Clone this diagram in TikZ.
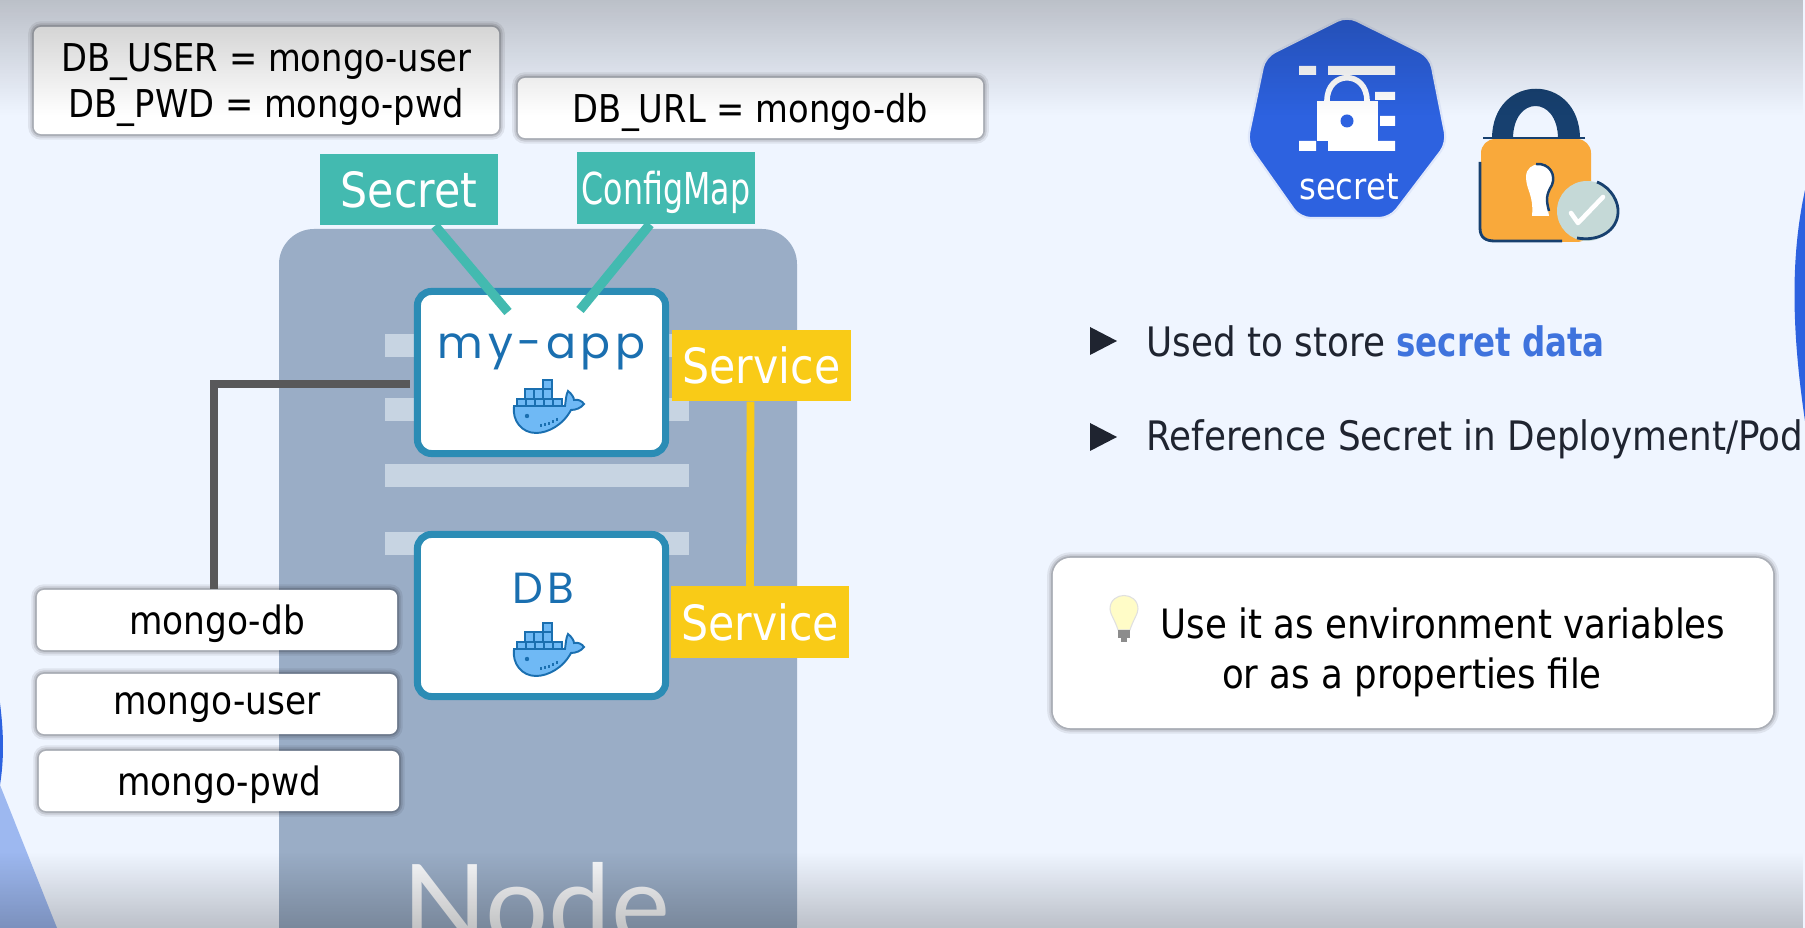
\documentclass[tikz,border=0pt]{standalone}
\usepackage{fontspec}
\setmainfont{DejaVu Sans}[FakeStretch=0.88]
\newfontfamily\latofont{Lato}
\newfontfamily\appfont{Poppins}[LetterSpace=10]
\newfontfamily\tightfont{DejaVu Sans}[FakeStretch=0.72]
\newfontfamily\markfont{DejaVu Sans}[FakeStretch=0.80]
\usetikzlibrary{fadings, calc, positioning}
\definecolor{pagebg}{HTML}{EFF5FF}
\definecolor{nodegray}{HTML}{9AADC6}
\definecolor{stripe}{HTML}{C7D4E2}
\definecolor{podblue}{HTML}{2B8CB5}
\definecolor{appblue}{HTML}{1A6FB0}
\definecolor{whalefill}{HTML}{6FB9F5}
\definecolor{tealbox}{HTML}{43BAB0}
\definecolor{yellowbox}{HTML}{F9CB17}
\definecolor{linegray}{HTML}{58585A}
\definecolor{kubeblue}{HTML}{2D62E0}
\definecolor{paleblue}{HTML}{9DB8F0}
\definecolor{lockorange}{HTML}{F9A93B}
\definecolor{lockblue}{HTML}{17406F}
\definecolor{checkgray}{HTML}{C5D9D7}
\definecolor{textdark}{HTML}{1F2430}
\definecolor{textblue}{HTML}{3F73DD}
\tikzfading[name=fadedown, top color=transparent!0, bottom color=transparent!100]
\tikzfading[name=fadeup, bottom color=transparent!0, top color=transparent!100]
\tikzset{
  % Cards with text
  softshadow/.style={
    preaction={draw=black, draw opacity=.07, line width=3.2pt},
    preaction={draw=black, draw opacity=.10, line width=2pt},
    preaction={draw=black, draw opacity=.14, line width=1pt}},
  card/.style={rectangle, rounded corners=2pt, softshadow, fill=white, text=black, inner sep=0pt, align=center,
    text depth=0pt, font=\fontsize{10.9}{13}\selectfont},
  lowcard/.style={card, minimum width=3.60cm, minimum height=0.60cm, font=\fontsize{11.1}{13}\selectfont},
  % Pods
  podbox/.style={rectangle, rounded corners=4pt, draw=podblue, line width=2pt, fill=white,
    minimum width=2.48cm, minimum height=1.62cm, inner sep=0pt},
  podtext/.style={text=appblue, inner sep=0pt},
  % Coloured tags
  tag/.style={rectangle, minimum width=1.78cm, minimum height=0.71cm, inner sep=0pt, text=white,
    fill=#1, font=\fontsize{13.8}{16}\selectfont},
  tag/.default={tealbox},
  % Connectors
  tealline/.style={tealbox, line width=2.7pt},
  yellowline/.style={yellowbox, line width=2.2pt},
  grayline/.style={linegray, line width=2.3pt},
  % Right side
  bullettext/.style={anchor=west, inner sep=0pt, text=textdark, font=\fontsize{11.55}{14}\selectfont},
  notetext/.style={inner sep=0pt, font=\fontsize{11.5}{14}\selectfont},
  pics/dockerwhale/.style={code={
    \draw[appblue, line width=.55pt, fill=whalefill] (-34,-1) -- (17,-1)
      .. controls (18,-8) and (18,-12) .. (20,-16) .. controls (24,-13) and (26,-9) .. (26,-7)
      .. controls (30,-8) and (34,-6) .. (36,-3) .. controls (33,1) and (28,3) .. (23,3)
      .. controls (15,18) and (0,26) .. (-12,26) .. controls (-26,26) and (-36,14) .. (-34,-1) -- cycle;
    \foreach \x in {-31,-22,-13,-4,5} {
      \draw[appblue, line width=.45pt, fill=whalefill] (\x,-8) rectangle (\x+9,-1);
    }
    \foreach \x in {-23,-14,-5} {
      \draw[appblue, line width=.45pt, fill=whalefill] (\x,-18) rectangle (\x+9,-8);
    }
    \draw[appblue, line width=.45pt, fill=whalefill] (-5,-27) rectangle (4,-18);
    \fill[appblue] (-21,9) circle[radius=2.2];
    \foreach \x/\y in {-7/19, -3/18, 1/17, 5/15, 9/13} {
      \draw[appblue, line width=.5pt] (\x,\y-2) -- (\x,\y+1);
    }
  }},
}
\begin{document}
\begin{tikzpicture}[x=0.01cm, y=-0.01cm]
    \useasboundingbox (0,0) rectangle (1805,928);
    \clip (0,0) rectangle (1805,928);
    % Background
    \fill[pagebg] (0,0) rectangle (1805,928);
    \fill[kubeblue] (1805,190) .. controls (1792,250) and (1790,320) .. (1805,421) -- cycle;
    \fill[kubeblue] (0,703) .. controls (4,735) and (4,760) .. (0,785) -- cycle;
    \fill[paleblue] (0,785) -- (57,928) -- (0,928) -- cycle;
    % K8s node with its stripes
    \fill[nodegray, rounded corners=10pt] (279,229) rectangle (797,960);
    \foreach \y in {334,398,464,532} {
      \fill[stripe] (385,\y) rectangle (689,\y+23);
    }
    \node[font=\latofont\fontsize{31.7}{36}\selectfont, text=white!92!nodegray, anchor=base, inner sep=0pt] (nodelabel) at (536,945) {Node};
    % Pods
    \node[podbox] (appbox) at (541.5,372.5) {};
    \node[podbox] (dbbox) at (541.5,615.5) {};
    \node[podtext, font=\appfont\fontsize{12.6}{16}\selectfont] (apptext) at (541.5,352) {my-app};
    \node[podtext, font=\appfont\fontsize{12.4}{14}\selectfont] (dbtext) at (543,588) {DB};
    \pic at (548,407) {dockerwhale};
    \pic at (548,650) {dockerwhale};
    % Config tags
    \node[tag] (secret) at (409,189.5) {Secret};
    \node[tag, text depth=0pt, font=\tightfont\fontsize{12.5}{14}\selectfont] (configmap) at (666,188) {ConfigMap};
    \coordinate (secretend) at (508,312);
    \coordinate (configend) at (580,310);
    \draw[tealline] ($(secret.south)+(26,0)$) -- (secretend);
    \draw[tealline] ($(configmap.south)+(-16,0)$) -- (configend);
    % Services
    \node[tag=yellowbox] (appservice) at (761.5,365.5) {Service};
    \node[tag=yellowbox] (dbservice) at (760,622) {Service};
    \draw[yellowline] ($(appservice.south)+(-11,0)$) -- ($(dbservice.north)+(-10,0)$);
    % Value cards
    \node[card, minimum width=4.65cm, minimum height=1.07cm] (secretcard) at (266.5,80.5) {DB\_USER = mongo-user\\DB\_PWD = mongo-pwd};
    \node[card, minimum width=4.65cm, minimum height=0.60cm] (configcard) at (750.5,108) {DB\_URL = mongo-db};
    \node[lowcard] (mongodb) at (217,620) {mongo-db};
    \node[lowcard] (mongouser) at (217,704) {mongo-user};
    \node[lowcard] (mongopwd) at (219,781) {mongo-pwd};
    \draw[grayline] ($(mongodb.north)+(-3,0)$) |- ($(appbox.west)+(-4,11.5)$);
    % Secret icon
    \draw[fill=kubeblue, draw=white!85!kubeblue, line width=.6pt, rounded corners=3pt]
      (1347,16) -- (1430,57) -- (1447,143) -- (1390,218) -- (1300,218) -- (1247,143) -- (1265,57) -- cycle;
    \fill[white] (1299,66) rectangle (1316,75) (1328,66) rectangle (1395,75);
    \fill[white] (1375,92) rectangle (1395,100) (1380,116) rectangle (1395,126);
    \fill[white] (1299,141) rectangle (1316,151) (1328,141) rectangle (1395,151);
    \draw[white, line width=1.6pt] (1327,101) .. controls (1327,70) and (1367,70) .. (1367,101);
    \fill[white] (1317,101) rectangle (1378,141);
    \fill[kubeblue] (1347,121) circle[radius=6.5];
    \node[text=white, inner sep=0pt, font=\fontsize{10.4}{13}\selectfont] (secretlabel) at (1349,187) {secret};
    % Padlock icon
    \fill[lockblue] (1492,139) .. controls (1492,72) and (1580,72) .. (1580,139) -- (1558,139)
      .. controls (1558,95) and (1513,95) .. (1513,139) -- cycle;
    \fill[lockorange, rounded corners=4pt] (1481,139) rectangle (1591,242);
    \draw[lockblue, line width=.4pt] (1483,138) -- (1585,138);
    \draw[lockblue, line width=.8pt] (1480,162) -- (1480,228) .. controls (1480,238) and (1486,241) .. (1495,241) -- (1562,241);
    \fill[white] (1526,177) .. controls (1526,160) and (1552,160) .. (1552,177)
      .. controls (1552,190) and (1545,195) .. (1549,216) -- (1532,216) .. controls (1534,195) and (1526,190) .. (1526,177) -- cycle;
    \draw[lockblue, line width=.7pt] (1536,164) .. controls (1550,163) and (1556,175) .. (1552,185) .. controls (1546,195) and (1546,200) .. (1549,211);
    \fill[checkgray] (1587,211) circle[radius=30];
    \draw[lockblue, line width=.8pt] (1597,182) .. controls (1612,188) and (1619,203) .. (1618,213)
      .. controls (1617,230) and (1600,242) .. (1577,238);
    \draw[white, line width=1.3pt, line cap=round, line join=round] (1571,213) -- (1578,223) -- (1603,197);
    % Bullet points
    \foreach \y in {341,437} {
      \fill[textdark] (1090,\y-14) -- (1117,\y) -- (1090,\y+14) -- cycle;
    }
    \node[bullettext] (usedtext) at (1146,341) {Used to store \textcolor{textblue}{\markfont\bfseries secret data}};
    \node[bullettext] (reftext) at (1146,439) {Reference Secret in Deployment/Pod};
    % Note with bulb
    \node[card, rounded corners=5pt, minimum width=7.20cm, minimum height=1.70cm] (notecard) at (1413,643) {};
    \node[notetext] (noteone) at (1443,623) {Use it as environment variables};
    \node[notetext] (notetwo) at (1412,677) {or as a properties file};
    \draw[fill=yellow!22, draw=black!12, line width=.3pt] (1118,630) .. controls (1115,620) and (1110,614) .. (1110,609)
      .. controls (1110,591) and (1138,591) .. (1138,609) .. controls (1138,614) and (1133,620) .. (1130,630) -- cycle;
    \fill[black!45] (1118,630) rectangle (1130,638);
    \fill[black!45] (1121,638) rectangle (1127,642);
    % Top and bottom edge of the video frame
    \fill[black, fill opacity=.27, path fading=fadedown] (0,-30) rectangle (1805,115);
    \fill[black, fill opacity=.30, path fading=fadeup] (0,852) rectangle (1805,960);
  \end{tikzpicture}
\end{document}
